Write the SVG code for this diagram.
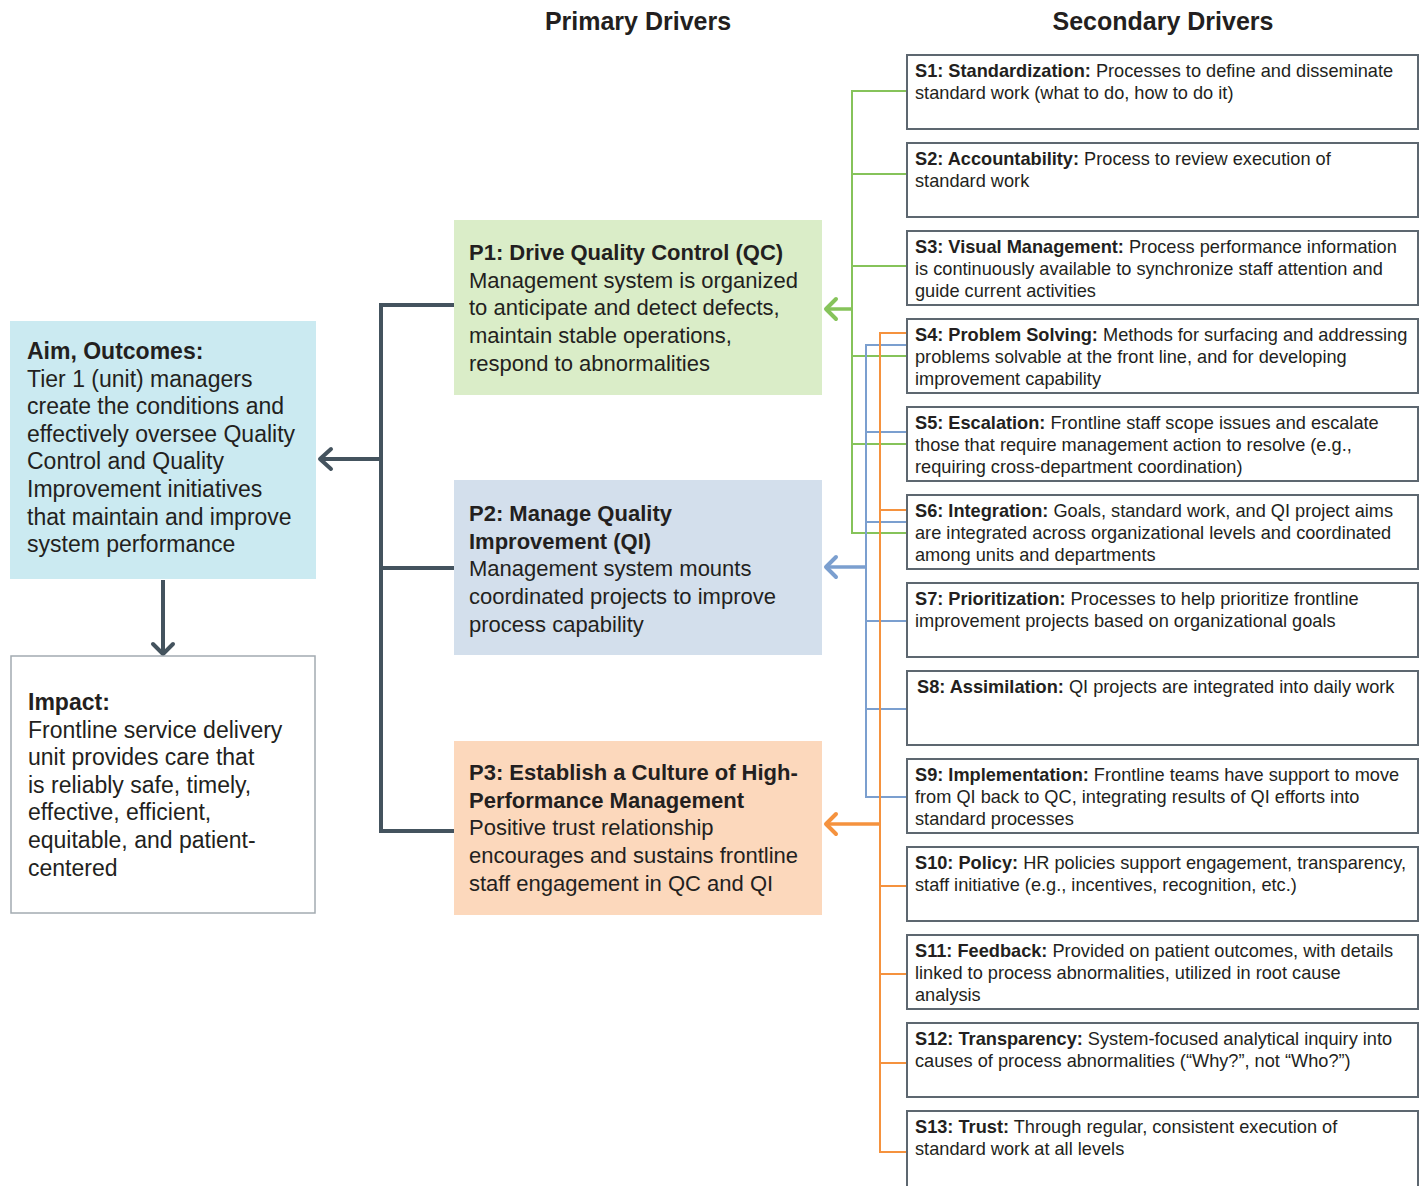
<svg xmlns="http://www.w3.org/2000/svg" width="1427" height="1186" viewBox="0 0 1427 1186">
<style>
text{font-family:"Liberation Sans",Arial,sans-serif;fill:#231f20}
.h{font-size:25px;font-weight:bold;text-anchor:middle}
.big{font-size:23px}
.mid{font-size:22px}
.s{font-size:18.2px}
.b{font-weight:bold}
.sbox{fill:#fff;stroke:#5d6770;stroke-width:2}
.g{stroke:#86c35a;stroke-width:2;fill:none}
.bl{stroke:#7b9fcf;stroke-width:2;fill:none}
.o{stroke:#f5923e;stroke-width:2;fill:none}
.dk{stroke:#44535e;stroke-width:4;fill:none}
.arr{fill:none;stroke-width:4;stroke-linecap:round;stroke-linejoin:round}
</style>
<rect width="1427" height="1186" fill="#fff"/>
<text class="h" x="638" y="30">Primary Drivers</text>
<text class="h" x="1163" y="30">Secondary Drivers</text>

<g id="connectors">
  <path class="dk" d="M454 305H381V831H454M381 568H454M381 459H320"/>
  <polyline class="arr" stroke="#44535e" points="331,449 320,459 331,469"/>
  <path class="dk" d="M163 580V653"/>
  <polyline class="arr" stroke="#44535e" points="153,644 163,654 173,644"/>
  <path class="g" d="M907 91H852V533H907M852 174H907M852 266H907M852 356H907M852 444H907"/>
  <path d="M852 309H826" stroke="#86c35a" stroke-width="3.5" fill="none"/>
  <polyline class="arr" stroke="#86c35a" points="836,299 826,309 836,319"/>
  <path class="bl" d="M907 345H866V797H907M866 432H907M866 522H907M866 621H907M866 709H907"/>
  <path d="M866 567H826" stroke="#7b9fcf" stroke-width="3.5" fill="none"/>
  <polyline class="arr" stroke="#7b9fcf" points="836,557 826,567 836,577"/>
  <path class="o" d="M907 333H880V1152H907M880 510H907M880 886H907M880 974H907M880 1063H907"/>
  <path d="M880 824H826" stroke="#f5923e" stroke-width="3.5" fill="none"/>
  <polyline class="arr" stroke="#f5923e" points="836,814 826,824 836,834"/>
</g>

<g id="aim">
  <rect x="10" y="321" width="306" height="258" fill="#cbeaf1"/>
  <text class="big" x="27" y="359"><tspan class="b">Aim, Outcomes:</tspan><tspan x="27" dy="27.6">Tier 1 (unit) managers</tspan><tspan x="27" dy="27.6">create the conditions and</tspan><tspan x="27" dy="27.6">effectively oversee Quality</tspan><tspan x="27" dy="27.6">Control and Quality</tspan><tspan x="27" dy="27.6">Improvement initiatives</tspan><tspan x="27" dy="27.6">that maintain and improve</tspan><tspan x="27" dy="27.6">system performance</tspan></text>
</g>
<g id="impact">
  <rect x="11" y="656" width="304" height="257" fill="#fff" stroke="#a3abb1" stroke-width="1.5"/>
  <text class="big" x="28" y="710"><tspan class="b">Impact:</tspan><tspan x="28" dy="27.6">Frontline service delivery</tspan><tspan x="28" dy="27.6">unit provides care that</tspan><tspan x="28" dy="27.6">is reliably safe, timely,</tspan><tspan x="28" dy="27.6">effective, efficient,</tspan><tspan x="28" dy="27.6">equitable, and patient-</tspan><tspan x="28" dy="27.6">centered</tspan></text>
</g>

<g id="p1">
  <rect x="454" y="220" width="368" height="175" fill="#daedc8"/>
  <text class="mid" x="469" y="260"><tspan class="b">P1: Drive Quality Control (QC)</tspan><tspan x="469" dy="27.7">Management system is organized</tspan><tspan x="469" dy="27.7">to anticipate and detect defects,</tspan><tspan x="469" dy="27.7">maintain stable operations,</tspan><tspan x="469" dy="27.7">respond to abnormalities</tspan></text>
</g>
<g id="p2">
  <rect x="454" y="480" width="368" height="175" fill="#d3dfec"/>
  <text class="mid" x="469" y="521"><tspan class="b">P2: Manage Quality</tspan><tspan x="469" dy="27.7" class="b">Improvement (QI)</tspan><tspan x="469" dy="27.7">Management system mounts</tspan><tspan x="469" dy="27.7">coordinated projects to improve</tspan><tspan x="469" dy="27.7">process capability</tspan></text>
</g>
<g id="p3">
  <rect x="454" y="741" width="368" height="174" fill="#fcd8bc"/>
  <text class="mid" x="469" y="780"><tspan class="b">P3: Establish a Culture of High-</tspan><tspan x="469" dy="27.7" class="b">Performance Management</tspan><tspan x="469" dy="27.7">Positive trust relationship</tspan><tspan x="469" dy="27.7">encourages and sustains frontline</tspan><tspan x="469" dy="27.7">staff engagement in QC and QI</tspan></text>
</g>

<g id="s1"><rect class="sbox" x="907" y="55" width="511" height="74"/>
<text class="s" x="915" y="77"><tspan class="b">S1: Standardization:</tspan> Processes to define and disseminate<tspan x="915" dy="22">standard work (what to do, how to do it)</tspan></text></g>
<g id="s2"><rect class="sbox" x="907" y="143" width="511" height="74"/>
<text class="s" x="915" y="165"><tspan class="b">S2: Accountability:</tspan> Process to review execution of<tspan x="915" dy="22">standard work</tspan></text></g>
<g id="s3"><rect class="sbox" x="907" y="231" width="511" height="74"/>
<text class="s" x="915" y="253"><tspan class="b">S3: Visual Management:</tspan> Process performance information<tspan x="915" dy="22">is continuously available to synchronize staff attention and</tspan><tspan x="915" dy="22">guide current activities</tspan></text></g>
<g id="s4"><rect class="sbox" x="907" y="319" width="511" height="74"/>
<text class="s" x="915" y="341"><tspan class="b">S4: Problem Solving:</tspan> Methods for surfacing and addressing<tspan x="915" dy="22">problems solvable at the front line, and for developing</tspan><tspan x="915" dy="22">improvement capability</tspan></text></g>
<g id="s5"><rect class="sbox" x="907" y="407" width="511" height="74"/>
<text class="s" x="915" y="429"><tspan class="b">S5: Escalation:</tspan> Frontline staff scope issues and escalate<tspan x="915" dy="22">those that require management action to resolve (e.g.,</tspan><tspan x="915" dy="22">requiring cross-department coordination)</tspan></text></g>
<g id="s6"><rect class="sbox" x="907" y="495" width="511" height="74"/>
<text class="s" x="915" y="517"><tspan class="b">S6: Integration:</tspan> Goals, standard work, and QI project aims<tspan x="915" dy="22">are integrated across organizational levels and coordinated</tspan><tspan x="915" dy="22">among units and departments</tspan></text></g>
<g id="s7"><rect class="sbox" x="907" y="583" width="511" height="74"/>
<text class="s" x="915" y="605"><tspan class="b">S7: Prioritization:</tspan> Processes to help prioritize frontline<tspan x="915" dy="22">improvement projects based on organizational goals</tspan></text></g>
<g id="s8"><rect class="sbox" x="907" y="671" width="511" height="74"/>
<text class="s" x="917" y="693"><tspan class="b">S8: Assimilation:</tspan> QI projects are integrated into daily work</text></g>
<g id="s9"><rect class="sbox" x="907" y="759" width="511" height="74"/>
<text class="s" x="915" y="781"><tspan class="b">S9: Implementation:</tspan> Frontline teams have support to move<tspan x="915" dy="22">from QI back to QC, integrating results of QI efforts into</tspan><tspan x="915" dy="22">standard processes</tspan></text></g>
<g id="s10"><rect class="sbox" x="907" y="847" width="511" height="74"/>
<text class="s" x="915" y="869"><tspan class="b">S10: Policy:</tspan> HR policies support engagement, transparency,<tspan x="915" dy="22">staff initiative (e.g., incentives, recognition, etc.)</tspan></text></g>
<g id="s11"><rect class="sbox" x="907" y="935" width="511" height="74"/>
<text class="s" x="915" y="957"><tspan class="b">S11: Feedback:</tspan> Provided on patient outcomes, with details<tspan x="915" dy="22">linked to process abnormalities, utilized in root cause</tspan><tspan x="915" dy="22">analysis</tspan></text></g>
<g id="s12"><rect class="sbox" x="907" y="1023" width="511" height="74"/>
<text class="s" x="915" y="1045"><tspan class="b">S12: Transparency:</tspan> System-focused analytical inquiry into<tspan x="915" dy="22">causes of process abnormalities (“Why?”, not “Who?”)</tspan></text></g>
<g id="s13"><rect class="sbox" x="907" y="1111" width="511" height="80"/>
<text class="s" x="915" y="1133"><tspan class="b">S13: Trust:</tspan> Through regular, consistent execution of<tspan x="915" dy="22">standard work at all levels</tspan></text></g>
</svg>
